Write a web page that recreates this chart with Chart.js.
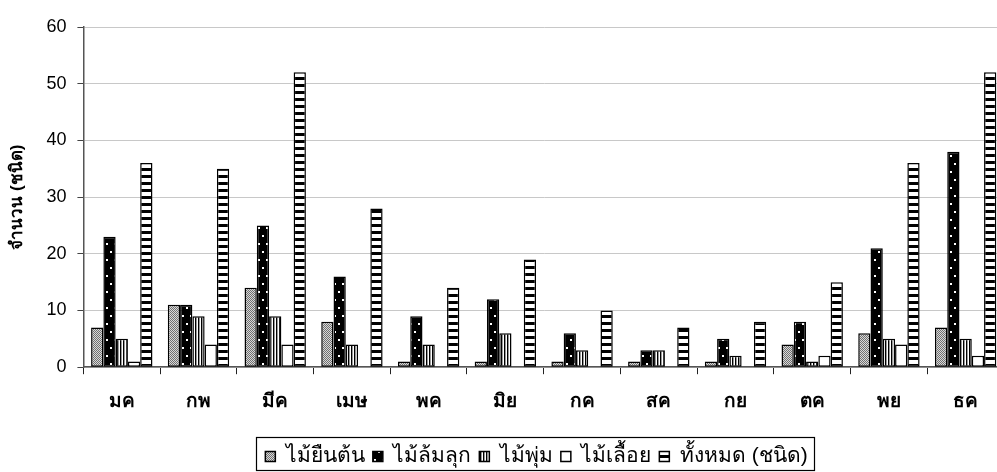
<!DOCTYPE html>
<html>
<head>
<meta charset="utf-8">
<script src="https://cdn.jsdelivr.net/npm/chart.js@4/dist/chart.umd.min.js"></script>
<style>
html,body{margin:0;padding:0;background:#fff;overflow:hidden;width:997px;height:472px;}
#wrap{position:absolute;left:0;top:0;width:1006px;height:472px;}
</style>
</head>
<body>
<div id="wrap"><canvas id="c"></canvas></div>
<script>
const categories = ["มค","กพ","มีค","เมษ","พค","มิย","กค","สค","กย","ตค","พย","ธค"];
const seriesNames = ["ไม้ยืนต้น","ไม้ล้มลุก","ไม้พุ่ม","ไม้เลื้อย","ทั้งหมด (ชนิด)"];
const trees   = [7, 11, 14, 8, 1, 1, 1, 1, 1, 4, 6, 7];
const herbs   = [23, 11, 25, 16, 9, 12, 6, 3, 5, 8, 21, 38];
const shrubs  = [5, 9, 9, 4, 4, 6, 3, 3, 2, 1, 5, 5];
const vines   = [1, 4, 4, 0, 0, 0, 0, 0, 0, 2, 4, 2];
const total   = [36, 35, 52, 28, 14, 19, 10, 7, 8, 15, 36, 52];
const yTicks  = [0, 10, 20, 30, 40, 50, 60];

function makePattern(w, h, draw) {
  const c = document.createElement('canvas');
  c.width = w; c.height = h;
  const g = c.getContext('2d');
  draw(g);
  return g.createPattern(c, 'repeat');
}
const patChecker = makePattern(2, 2, g => {
  g.fillStyle = '#d8d8d8'; g.fillRect(0,0,2,2);
  g.fillStyle = '#707070'; g.fillRect(0,0,1,1); g.fillRect(1,1,1,1);
});
const patDots = makePattern(8, 16, g => {
  g.fillStyle = '#000'; g.fillRect(0,0,8,16);
  g.fillStyle = '#fff'; g.fillRect(2,3,2,2); g.fillRect(6,11,2,2);
});
const patVert = makePattern(3, 1, g => {
  g.fillStyle = '#fff'; g.fillRect(0,0,3,1);
  g.fillStyle = '#000'; g.fillRect(0,0,1,1);
  g.fillStyle = '#999'; g.fillRect(1,0,1,1);
});
const patHoriz = makePattern(1, 7, g => {
  g.fillStyle = '#000'; g.fillRect(0,0,1,7);
  g.fillStyle = '#fff'; g.fillRect(0,3,1,4);
});

const seriesValues = [trees, herbs, shrubs, vines, total];
const fills = [patChecker, patDots, patVert, '#ffffff', patHoriz];

const LEGEND_DX = 31, LEGEND_ITEM_TOP = 446;
const legendBox = {
  id: 'legendBox',
  afterLayout(chart) {
    const lg = chart.legend;
    if (!lg) return;
    const dy = LEGEND_ITEM_TOP - (lg.top + lg.options.labels.padding);
    lg.left += LEGEND_DX; lg.right += LEGEND_DX;
    lg.top += dy; lg.bottom += dy;
  },
  afterDraw(chart) {
    const lg = chart.legend;
    if (!lg || !lg.legendHitBoxes || !lg.legendHitBoxes.length) return;
    let minX = Infinity, maxX = -Infinity, minY = Infinity, maxY = -Infinity;
    lg.legendHitBoxes.forEach(b => {
      minX = Math.min(minX, b.left); maxX = Math.max(maxX, b.left + b.width);
      minY = Math.min(minY, b.top); maxY = Math.max(maxY, b.top + b.height);
    });
    const g = chart.ctx;
    g.save();
    g.strokeStyle = '#000'; g.lineWidth = 1.2;
    const x0 = Math.round(minX - 9) + 0.5, y0 = Math.round(minY - 9) + 0.5;
    const x1 = Math.round(maxX + 6) + 0.5, y1 = Math.min(Math.round(maxY + 6), 470) + 0.5;
    g.strokeRect(x0, y0, x1 - x0, y1 - y0);
    g.restore();
  }
};

new Chart(document.getElementById('c'), {
  type: 'bar',
  data: {
    labels: categories,
    datasets: seriesNames.map((n, i) => ({
      label: n,
      data: seriesValues[i],
      backgroundColor: fills[i],
      borderColor: '#000',
      borderWidth: 1.5,
      borderSkipped: false,
      categoryPercentage: 0.8,
      barPercentage: 1.0
    }))
  },
  options: {
    responsive: true,
    maintainAspectRatio: false,
    animation: false,
    layout: { padding: { left: 7, right: 2, top: 27, bottom: 0 } },
    plugins: {
      tooltip: { enabled: false },
      legend: {
        position: 'bottom',
        labels: {
          color: '#000',
          font: { family: 'Liberation Sans, Arial, sans-serif', size: 21 },
          boxWidth: 10, boxHeight: 10,
          padding: 8
        }
      }
    },
    scales: {
      x: {
        grid: { offset: true, drawOnChartArea: false, tickLength: 7, color: '#222', tickWidth: 1 },
        border: { color: '#555', width: 1.5 },
        ticks: { color: '#000', font: { family: 'Liberation Sans, Arial, sans-serif', size: 19, weight: 'bold' }, padding: 16 },
        afterFit: s => { s.height += 4; }
      },
      y: {
        min: 0, max: 60,
        afterBuildTicks: s => { s.ticks = yTicks.map(v => ({ value: v })); },
        grid: { color: '#c8c8c8', tickColor: '#444', tickLength: 6 },
        border: { color: '#555', width: 1.5 },
        title: { display: true, text: 'จำนวน (ชนิด)', color: '#000', font: { family: 'Liberation Sans, Arial, sans-serif', size: 17, weight: 'bold' }, padding: { top: 0, bottom: 8 } },
        ticks: { color: '#000', font: { family: 'Liberation Sans, Arial, sans-serif', size: 18 }, padding: 11 }
      }
    }
  },
  plugins: [legendBox]
});
</script>
</body>
</html>
